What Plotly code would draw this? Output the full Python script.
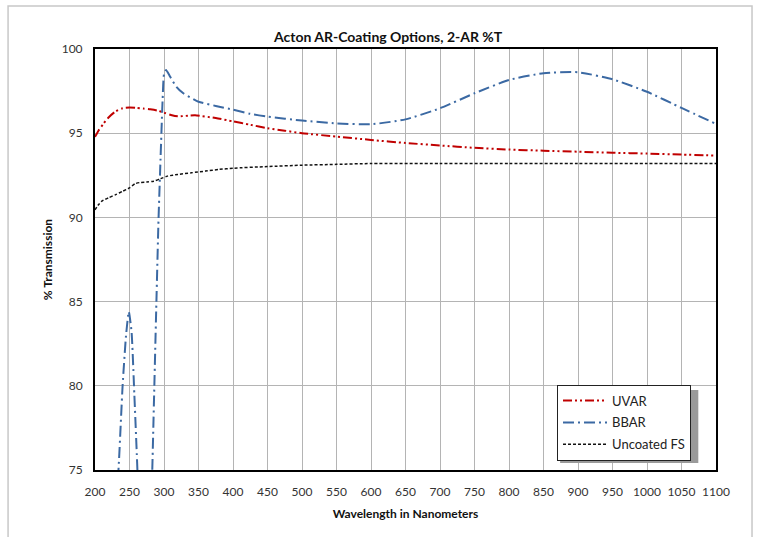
import plotly.graph_objects as go

# ---- data ----
uvar_wl = [200, 205, 212, 220, 230, 240, 250, 260, 270, 280, 290, 300, 310, 320, 335, 345,
           375, 400, 425, 450, 475, 500, 550, 600, 650, 700, 750, 800, 850, 900, 950, 1000, 1050, 1100]
uvar_t = [94.78, 95.15, 95.55, 95.95, 96.3, 96.48, 96.52, 96.5, 96.46, 96.42, 96.35, 96.22, 96.08, 96.0, 96.04, 96.06,
          95.9, 95.7, 95.5, 95.3, 95.15, 95.0, 94.8, 94.6, 94.42, 94.27, 94.13, 94.03, 93.96, 93.9, 93.84, 93.79, 93.73, 93.67]

bbar_wl = [228, 234, 240, 245, 249, 253, 257, 261, 266, 272, 278, 283, 286, 289, 292, 295, 298, 300, 303, 309,
           318, 328, 350, 375, 400, 425, 450, 500, 550, 600, 650, 700, 750, 800, 850, 900, 950, 1000, 1050, 1100]
bbar_t = [72.0, 75.0, 80.0, 83.0, 84.4, 83.2, 79.5, 75.5, 70.0, 66.0, 68.0, 75.0, 80.0, 85.0, 89.8, 93.5, 97.0, 98.5, 98.75, 98.35,
          97.75, 97.37, 96.87, 96.62, 96.4, 96.15, 95.98, 95.75, 95.58, 95.53, 95.82, 96.48, 97.37, 98.16, 98.56, 98.62, 98.2, 97.46, 96.5, 95.55]

fs_wl = [200, 205, 210, 220, 230, 240, 250, 258, 265, 275, 285, 295, 305, 320, 340, 360, 380, 400, 450, 500, 550, 600,
         700, 800, 900, 1000, 1100]
fs_t = [90.45, 90.75, 90.97, 91.17, 91.35, 91.55, 91.75, 92.0, 92.07, 92.1, 92.15, 92.3, 92.45, 92.55, 92.65, 92.75, 92.85, 92.92,
        93.02, 93.1, 93.15, 93.2, 93.2, 93.2, 93.2, 93.2, 93.2]

x_ticks = list(range(200, 1101, 50))
y_ticks = [75, 80, 85, 90, 95, 100]

TITLE = "Acton AR-Coating Options, 2-AR %T"
XTITLE = "Wavelength in Nanometers"
YTITLE = "% Transmission"

FONT = "Lato"

fig = go.Figure()
fig.add_trace(go.Scatter(x=uvar_wl, y=uvar_t, mode="lines", name="UVAR", legendgroup="a",
                         line=dict(color="#C00000", width=2, dash="9px,3px,2px,3px,2px,3px", shape="spline", smoothing=0.6)))
fig.add_trace(go.Scatter(x=bbar_wl, y=bbar_t, mode="lines", name="BBAR", legendgroup="b",
                         line=dict(color="#3B69A3", width=2, dash="11px,4px,2px,4px", shape="spline", smoothing=0.5)))
fig.add_trace(go.Scatter(x=fs_wl, y=fs_t, mode="lines", name="Uncoated FS", legendgroup="c",
                         line=dict(color="#111111", width=1.5, dash="3px,2px", shape="spline", smoothing=0.6)))

# outer chart border and legend shadow
fig.add_shape(type="rect", xref="paper", yref="paper", x0=-0.140, x1=1.058, y0=-0.2, y1=1.102,
              line=dict(color="#C8C8C8", width=1.5), fillcolor="rgba(0,0,0,0)", layer="below")
fig.add_shape(type="rect", xref="paper", yref="paper", x0=0.749, x1=0.9715, y0=0.0166, y1=0.19,
              line=dict(width=0), fillcolor="#9A9A9A", layer="above")

fig.update_layout(
    width=757, height=537,
    margin=dict(l=95, r=41, t=49, b=67),
    paper_bgcolor="white", plot_bgcolor="white",
    font=dict(family=FONT, size=12, color="#333333"),
    title=dict(text="<b>" + TITLE + "</b>", x=0.472, xref="paper", xanchor="center",
               y=1.0, yref="paper", yanchor="bottom", pad=dict(b=7),
               font=dict(family=FONT, size=14, color="#111111")),
    showlegend=True,
    legend=dict(x=0.744, y=0.203, xanchor="left", yanchor="top",
                bgcolor="white", bordercolor="#222222", borderwidth=1,
                font=dict(family=FONT, size=13, color="#222222"),
                traceorder="grouped", tracegroupgap=2, itemwidth=44),
    xaxis=dict(range=[200, 1100], tickvals=x_ticks, ticktext=[str(v) for v in x_ticks],
               showgrid=True, gridcolor="#B4B4B4", gridwidth=1,
               showline=True, linecolor="black", linewidth=2, mirror=True,
               ticks="", ticklabelstandoff=10, zeroline=False,
               title=dict(text="<b>" + XTITLE + "</b>", standoff=11,
                          font=dict(family=FONT, size=12, color="#111111"))),
    yaxis=dict(range=[75, 100], tickvals=y_ticks, ticktext=[str(v) for v in y_ticks],
               showgrid=True, gridcolor="#B4B4B4", gridwidth=1,
               showline=True, linecolor="black", linewidth=2, mirror=True,
               ticks="", ticklabelstandoff=8, zeroline=False,
               title=dict(text="<b>" + YTITLE + "</b>", standoff=7,
                          font=dict(family=FONT, size=12, color="#111111"))),
)

fig.write_html("out.html", config={"displayModeBar": False},
               post_script="document.body.style.margin='0';document.body.style.overflow='hidden';")
